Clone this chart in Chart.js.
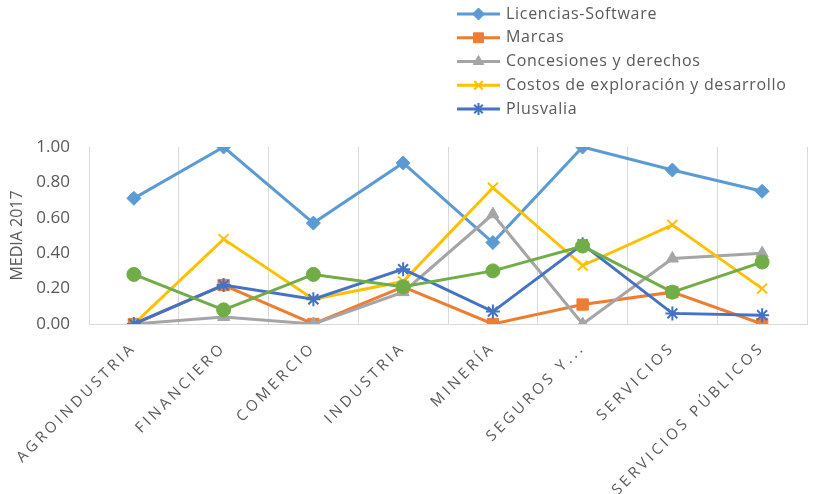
<!DOCTYPE html>
<html>
<head>
<meta charset="utf-8">
<script src="https://cdn.jsdelivr.net/npm/chart.js@4/dist/chart.umd.min.js"></script>
<style>
  html, body { margin: 0; padding: 0; background: #ffffff; }
  #wrap { width: 816px; height: 494px; position: relative; }
</style>
</head>
<body>
<div id="wrap"><canvas id="chart"></canvas></div>
<script>
// Sectors on the horizontal axis
const categories = ['AGROINDUSTRIA', 'FINANCIERO', 'COMERCIO', 'INDUSTRIA', 'MINERÍA', 'SEGUROS Y...', 'SERVICIOS', 'SERVICIOS PÚBLICOS'];

// Mean values per type of intangible asset (2017)
const licenciasSoftware = [0.71, 1.00, 0.57, 0.91, 0.46, 1.00, 0.87, 0.75];
const marcas            = [0.00, 0.22, 0.00, 0.21, 0.00, 0.11, 0.18, 0.00];
const concesiones       = [0.00, 0.04, 0.00, 0.18, 0.62, 0.00, 0.37, 0.40];
const costosExploracion = [0.00, 0.48, 0.14, 0.24, 0.77, 0.33, 0.56, 0.20];
const plusvalia         = [0.00, 0.22, 0.14, 0.31, 0.07, 0.45, 0.06, 0.05];
const otrosIntangibles  = [0.28, 0.08, 0.28, 0.21, 0.30, 0.44, 0.18, 0.35];

// Value axis ticks
const yTicks = [0.00, 0.20, 0.40, 0.60, 0.80, 1.00];

const TEXT = '#595959';
const GRID = '#d9d9d9';
const FONT = "'Open Sans', 'DejaVu Sans', sans-serif";

function series(label, data, color, pointStyle, radius, showInLegend, order) {
  const stroked = pointStyle === 'crossRot' || pointStyle === 'star';
  return {
    label, data,
    borderColor: color,
    backgroundColor: color,
    pointBackgroundColor: color,
    pointBorderColor: color,
    pointStyle,
    pointRadius: radius,
    pointHoverRadius: radius,
    pointBorderWidth: stroked ? 2 : 1,
    borderWidth: 3,
    tension: 0,
    fill: false,
    order,
    showInLegend
  };
}

const datasets = [
  series('Licencias-Software', licenciasSoftware, '#5b9bd5', 'rectRot', 7, true, 6),
  series('Marcas', marcas, '#ed7d31', 'rect', 8, true, 5),
  series('Concesiones y derechos', concesiones, '#a5a5a5', 'triangle', 7, true, 4),
  series('Costos de exploración y desarrollo', costosExploracion, '#ffc000', 'crossRot', 7, true, 3),
  series('Plusvalia', plusvalia, '#4472c4', 'star', 7, true, 2),
  series('Otros intangibles', otrosIntangibles, '#70ad47', 'circle', 7, false, 1)
];

// Vertical legend in the upper right corner
const sideLegend = {
  id: 'sideLegend',
  afterDraw(chart) {
    const ctx = chart.ctx;
    const x0 = 457, x1 = 500, textX = 506, top = 14, step = 23.75;
    ctx.save();
    let row = 0;
    chart.data.datasets.forEach(ds => {
      if (!ds.showInLegend) return;
      const y = top + row * step;
      ctx.strokeStyle = ds.borderColor;
      ctx.fillStyle = ds.backgroundColor;
      ctx.lineWidth = 3;
      ctx.beginPath();
      ctx.moveTo(x0, y);
      ctx.lineTo(x1, y);
      ctx.stroke();
      ctx.lineWidth = ds.pointBorderWidth;
      Chart.helpers.drawPoint(ctx, {
        pointStyle: ds.pointStyle,
        radius: ds.pointRadius - 1,
        borderWidth: ds.pointBorderWidth,
        rotation: 0
      }, (x0 + x1) / 2, y);
      ctx.fillStyle = TEXT;
      ctx.font = '16px ' + FONT;
      ctx.letterSpacing = '0.7px';
      ctx.textBaseline = 'middle';
      ctx.textAlign = 'left';
      ctx.fillText(ds.label, textX, y);
      ctx.letterSpacing = '0px';
      row++;
    });
    ctx.restore();
  }
};

// Wider tracking for the category labels
const spacedLabels = {
  id: 'spacedLabels',
  beforeDraw(chart) {
    const sx = chart.scales.x;
    if (sx && !sx._spaced) {
      const orig = sx.drawLabels.bind(sx);
      sx.drawLabels = function (area) {
        const c = this.ctx;
        const prev = c.letterSpacing;
        c.letterSpacing = '3.4px';
        orig(area);
        c.letterSpacing = prev;
      };
      sx._spaced = true;
    }
  }
};

new Chart(document.getElementById('chart'), {
  type: 'line',
  data: { labels: categories, datasets },
  options: {
    responsive: true,
    maintainAspectRatio: false,
    animation: false,
    devicePixelRatio: 1,
    layout: { padding: { top: 147, left: 0, right: 0, bottom: 0 } },
    plugins: {
      legend: { display: false },
      tooltip: { enabled: false }
    },
    scales: {
      x: {
        type: 'category',
        offset: true,
        grid: { offset: true, color: GRID, lineWidth: 1, drawTicks: false },
        border: { color: GRID, width: 1 },
        ticks: {
          color: TEXT,
          font: { family: FONT, size: 15 },
          minRotation: 45,
          maxRotation: 45,
          autoSkip: false,
          padding: 15
        },
        afterFit(scale) { scale.height = 170; }
      },
      y: {
        min: 0,
        max: 1,
        grid: { display: false, drawTicks: false },
        border: { display: false },
        afterBuildTicks(scale) { scale.ticks = yTicks.map(v => ({ value: v })); },
        ticks: {
          color: TEXT,
          font: { family: FONT, size: 17 },
          padding: 19,
          callback: v => Number(v).toFixed(2)
        },
        title: {
          display: true,
          text: 'MEDIA 2017',
          color: TEXT,
          font: { family: FONT, size: 16 },
          padding: { top: 8, bottom: 0 }
        },
        afterFit(scale) { scale.width = 89; }
      }
    }
  },
  plugins: [spacedLabels, sideLegend]
});
</script>
</body>
</html>
